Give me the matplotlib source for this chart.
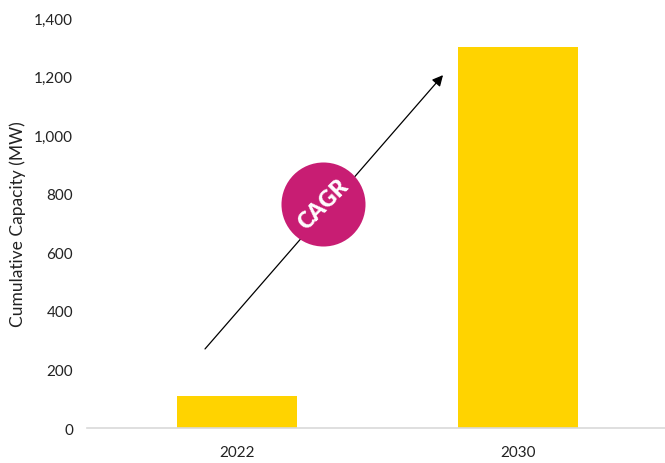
import matplotlib.pyplot as plt
from matplotlib.ticker import FuncFormatter

years = ["2022", "2030"]
capacity_mw = [110, 1300]

plt.rcParams['font.family'] = ['Lato', 'DejaVu Sans']

fig = plt.figure(figsize=(6.65, 4.64), dpi=100)
ax = fig.add_axes([0.1308, 0.0754, 0.8692, 0.8836])

x = range(len(years))
ax.bar(x, capacity_mw, width=0.43, color="#FFD300", zorder=2)

ax.set_xlim(-0.534, 1.523)
ax.set_ylim(0, 1400)
ax.set_yticks(range(0, 1401, 200))
ax.yaxis.set_major_formatter(FuncFormatter(lambda v, p: f"{int(v):,}"))
ax.set_xticks(list(x))
ax.set_xticklabels(years)
ax.tick_params(axis="both", length=0, labelsize=11, colors="#222222")
ax.tick_params(axis="x", pad=12)
ax.tick_params(axis="y", pad=10)
ax.set_ylabel("Cumulative Capacity (MW)", fontsize=12.5, color="#222222", labelpad=6)

for side in ["top", "right", "left"]:
    ax.spines[side].set_visible(False)
ax.spines["bottom"].set_color("#d9d9d9")
ax.spines["bottom"].set_linewidth(1.2)

# growth arrow with CAGR badge
ax.annotate("", xy=(0.733, 1205), xytext=(-0.114, 270),
            arrowprops=dict(arrowstyle="-|>", color="black", lw=0.9,
                            mutation_scale=16, shrinkA=0, shrinkB=0), zorder=3)
ax.scatter([0.306], [765], s=3660, color="#C81D73", zorder=4, linewidths=0)
ax.text(0.306, 765, "CAGR", rotation=45, ha="center", va="center",
        color="white", fontsize=16, fontweight="heavy", zorder=5,
        rotation_mode="anchor")

fig.savefig("out.png", dpi=100)
